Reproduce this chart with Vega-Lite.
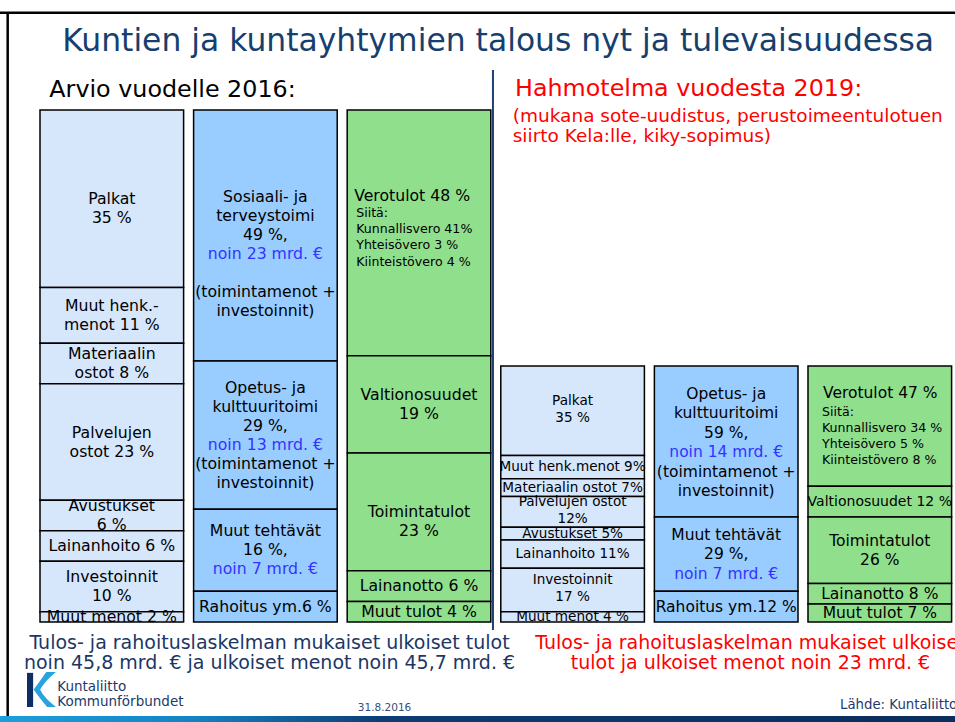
{
"$schema": "https://vega.github.io/schema/vega-lite/v6.json",
"width": 955, "height": 722, "autosize": "none", "padding": 0, "background": "white",
"config": {"view": {"stroke": null}, "text": {"font": "DejaVu Sans"}},
"resolve": {"scale": {"y": "independent"}},
"layer": [
{
 "data": {"values": [
  {"col":"2016 menolajit","kind":"menolaji","order":1,"pct":35,"t":["\u2800","Palkat","35 %"]},
  {"col":"2016 menolajit","kind":"menolaji","order":2,"pct":11,"t":["Muut henk.-","menot 11 %"]},
  {"col":"2016 menolajit","kind":"menolaji","order":3,"pct":8,"t":["Materiaalin","ostot 8 %"]},
  {"col":"2016 menolajit","kind":"menolaji","order":4,"pct":23,"t":["Palvelujen","ostot 23 %"]},
  {"col":"2016 menolajit","kind":"menolaji","order":5,"pct":6,"t":["Avustukset","6 %"]},
  {"col":"2016 menolajit","kind":"menolaji","order":6,"pct":6,"t":["Lainanhoito 6 %"]},
  {"col":"2016 menolajit","kind":"menolaji","order":7,"pct":10,"t":["Investoinnit","10 %"]},
  {"col":"2016 menolajit","kind":"menolaji","order":8,"pct":2,"t":["Muut menot 2 %"]},
  {"col":"2016 tehtävät","kind":"tehtävä","order":1,"pct":49,"t":["\u2800","\u2800","Sosiaali- ja","terveystoimi","49 %,","\u2800","\u2800","(toimintamenot +","investoinnit)"],"b":["\u2800","\u2800","\u2800","\u2800","\u2800","noin 23 mrd. €","\u2800","\u2800","\u2800"]},
  {"col":"2016 tehtävät","kind":"tehtävä","order":2,"pct":29,"t":["Opetus- ja","kulttuuritoimi","29 %,","\u2800","(toimintamenot +","investoinnit)"],"b":["\u2800","\u2800","\u2800","noin 13 mrd. €","\u2800","\u2800"]},
  {"col":"2016 tehtävät","kind":"tehtävä","order":3,"pct":16,"t":["Muut tehtävät","16 %,","\u2800"],"b":["\u2800","\u2800","noin 7 mrd. €"]},
  {"col":"2016 tehtävät","kind":"tehtävä","order":4,"pct":6,"t":["Rahoitus ym.6 %"]},
  {"col":"2016 tulot","kind":"tulo","order":1,"pct":48,"h":"Verotulot 48 %","s":["Siitä:","Kunnallisvero 41%","Yhteisövero 3 %","Kiinteistövero 4 %"]},
  {"col":"2016 tulot","kind":"tulo","order":2,"pct":19,"t":["Valtionosuudet","19 %"]},
  {"col":"2016 tulot","kind":"tulo","order":3,"pct":23,"t":["\u2800","Toimintatulot","23 %"]},
  {"col":"2016 tulot","kind":"tulo","order":4,"pct":6,"t":["Lainanotto 6 %"]},
  {"col":"2016 tulot","kind":"tulo","order":5,"pct":4,"t":["Muut tulot 4 %"]}
 ]},
 "transform": [
  {"stack": "pct", "groupby": ["col"], "sort": [{"field": "order", "order": "descending"}], "offset": "normalize", "as": ["y0", "y1"]},
  {"calculate": "(datum.y0 + datum.y1) / 2", "as": "mid"},
  {"calculate": "datum.mid + (isValid(datum.t) ? length(datum.t) - 1 : 0) * 0.0185546875", "as": "ty"}
 ],
 "layer": [
  {"mark": {"type": "bar", "stroke": "#000000", "strokeWidth": 1.5},
   "encoding": {
    "x": {"field": "col", "type": "nominal", "scale": {"domain": ["2016 menolajit","2016 tehtävät","2016 tulot","2019 menolajit","2019 tehtävät","2019 tulot"], "range": [40, 951.6], "paddingInner": 0.065, "paddingOuter": 0},
          "axis": {"labels": false, "title": null, "ticks": true, "tickSize": 6, "tickColor": "#A9BCD1", "domainColor": "#A9BCD1", "domainWidth": 1.2, "offset": -98, "tickBand": "extent", "grid": false}},
    "y": {"field": "y0", "type": "quantitative", "scale": {"domain": [-0.1953125, 1.21484375], "nice": false, "zero": false}, "axis": null},
    "y2": {"field": "y1"},
    "color": {"field": "kind", "type": "nominal", "scale": {"domain": ["menolaji","tehtävä","tulo"], "range": ["#D6E6FB","#99CCFF","#90DF8C"]}, "legend": null}
   }},
  {"transform": [{"filter": "isValid(datum.t)"}],
   "mark": {"type": "text", "fontSize": 15.7, "lineHeight": 19, "baseline": "middle", "align": "center", "color": "#000000"},
   "encoding": {
    "x": {"field": "col", "type": "nominal", "axis": null},
    "y": {"field": "ty", "type": "quantitative", "scale": {"domain": [-0.1953125, 1.21484375], "nice": false, "zero": false}, "axis": null},
    "text": {"field": "t", "type": "nominal"}}},
  {"transform": [{"filter": "isValid(datum.b)"}],
   "mark": {"type": "text", "fontSize": 15.7, "lineHeight": 19, "baseline": "middle", "align": "center", "color": "#3333FF"},
   "encoding": {
    "x": {"field": "col", "type": "nominal", "axis": null},
    "y": {"field": "ty", "type": "quantitative", "scale": {"domain": [-0.1953125, 1.21484375], "nice": false, "zero": false}, "axis": null},
    "text": {"field": "b", "type": "nominal"}}},
  {"transform": [{"filter": "isValid(datum.h)"}],
   "mark": {"type": "text", "fontSize": 15.7, "baseline": "middle", "align": "left", "dx": 7, "dy": -37, "color": "#000000"},
   "encoding": {
    "x": {"field": "col", "type": "nominal", "bandPosition": 0, "axis": null},
    "y": {"field": "mid", "type": "quantitative", "scale": {"domain": [-0.1953125, 1.21484375], "nice": false, "zero": false}, "axis": null},
    "text": {"field": "h", "type": "nominal"}}},
  {"transform": [{"filter": "isValid(datum.s)"}],
   "mark": {"type": "text", "fontSize": 12.6, "lineHeight": 16.3, "baseline": "middle", "align": "left", "dx": 9, "dy": -20, "color": "#000000"},
   "encoding": {
    "x": {"field": "col", "type": "nominal", "bandPosition": 0, "axis": null},
    "y": {"field": "mid", "type": "quantitative", "scale": {"domain": [-0.1953125, 1.21484375], "nice": false, "zero": false}, "axis": null},
    "text": {"field": "s", "type": "nominal"}}}
 ]
},
{
 "data": {"values": [
  {"col":"2019 menolajit","kind":"menolaji","order":1,"pct":35,"t":["Palkat","35 %"]},
  {"col":"2019 menolajit","kind":"menolaji","order":2,"pct":9,"t":["Muut henk.menot 9%"]},
  {"col":"2019 menolajit","kind":"menolaji","order":3,"pct":7,"t":["Materiaalin ostot 7%"]},
  {"col":"2019 menolajit","kind":"menolaji","order":4,"pct":12,"t":["Palvelujen ostot","12%"]},
  {"col":"2019 menolajit","kind":"menolaji","order":5,"pct":5,"t":["Avustukset 5%"]},
  {"col":"2019 menolajit","kind":"menolaji","order":6,"pct":11,"t":["Lainanhoito 11%"]},
  {"col":"2019 menolajit","kind":"menolaji","order":7,"pct":17,"t":["Investoinnit","17 %"]},
  {"col":"2019 menolajit","kind":"menolaji","order":8,"pct":4,"t":["Muut menot 4 %"]},
  {"col":"2019 tehtävät","kind":"tehtävä","order":1,"pct":59,"t":["Opetus- ja","kulttuuritoimi","59 %,","\u2800","(toimintamenot +","investoinnit)"],"b":["\u2800","\u2800","\u2800","noin 14 mrd. €","\u2800","\u2800"]},
  {"col":"2019 tehtävät","kind":"tehtävä","order":2,"pct":29,"t":["Muut tehtävät","29 %,","\u2800"],"b":["\u2800","\u2800","noin 7 mrd. €"]},
  {"col":"2019 tehtävät","kind":"tehtävä","order":3,"pct":12,"t":["Rahoitus ym.12 %"]},
  {"col":"2019 tulot","kind":"tulo","order":1,"pct":47,"h":"Verotulot 47 %","s":["Siitä:","Kunnallisvero 34 %","Yhteisövero 5 %","Kiinteistövero 8 %"]},
  {"col":"2019 tulot","kind":"tulo","order":2,"pct":12,"t":["Valtionosuudet 12 %"]},
  {"col":"2019 tulot","kind":"tulo","order":3,"pct":26,"t":["Toimintatulot","26 %"]},
  {"col":"2019 tulot","kind":"tulo","order":4,"pct":8,"t":["Lainanotto 8 %"]},
  {"col":"2019 tulot","kind":"tulo","order":5,"pct":7,"t":["Muut tulot 7 %"]}
 ]},
 "transform": [
  {"stack": "pct", "groupby": ["col"], "sort": [{"field": "order", "order": "descending"}], "offset": "normalize", "as": ["y0", "y1"]},
  {"calculate": "(datum.y0 + datum.y1) / 2", "as": "mid"},
  {"calculate": "datum.mid + (isValid(datum.t) ? length(datum.t) - 1 : 0) * 0.0375", "as": "ty"}
 ],
 "layer": [
  {"mark": {"type": "bar", "stroke": "#000000", "strokeWidth": 1.5},
   "encoding": {
    "x": {"field": "col", "type": "nominal", "axis": null},
    "y": {"field": "y0", "type": "quantitative", "scale": {"domain": [-0.390625, 2.4296875], "nice": false, "zero": false}, "axis": null},
    "y2": {"field": "y1"},
    "color": {"field": "kind", "type": "nominal", "legend": null}
   }},
  {"transform": [{"filter": "isValid(datum.t) && datum.col === '2019 menolajit'"}],
   "mark": {"type": "text", "fontSize": 13.6, "lineHeight": 17, "baseline": "middle", "align": "center", "color": "#000000"},
   "encoding": {
    "x": {"field": "col", "type": "nominal", "axis": null},
    "y": {"field": "ty", "type": "quantitative", "scale": {"domain": [-0.390625, 2.4296875], "nice": false, "zero": false}, "axis": null},
    "text": {"field": "t", "type": "nominal"}}},
  {"transform": [{"filter": "isValid(datum.t) && datum.col !== '2019 menolajit' && !(datum.col === '2019 tulot' && datum.order === 2)"}],
   "mark": {"type": "text", "fontSize": 15.5, "lineHeight": 19.5, "baseline": "middle", "align": "center", "color": "#000000"},
   "encoding": {
    "x": {"field": "col", "type": "nominal", "axis": null},
    "y": {"field": "ty", "type": "quantitative", "scale": {"domain": [-0.390625, 2.4296875], "nice": false, "zero": false}, "axis": null},
    "text": {"field": "t", "type": "nominal"}}},
  {"transform": [{"filter": "datum.col === '2019 tulot' && datum.order === 2"}],
   "mark": {"type": "text", "fontSize": 14, "baseline": "middle", "align": "center", "color": "#000000"},
   "encoding": {
    "x": {"field": "col", "type": "nominal", "axis": null},
    "y": {"field": "ty", "type": "quantitative", "scale": {"domain": [-0.390625, 2.4296875], "nice": false, "zero": false}, "axis": null},
    "text": {"field": "t", "type": "nominal"}}},
  {"transform": [{"filter": "isValid(datum.b)"}],
   "mark": {"type": "text", "fontSize": 15.5, "lineHeight": 19.5, "baseline": "middle", "align": "center", "color": "#3333FF"},
   "encoding": {
    "x": {"field": "col", "type": "nominal", "axis": null},
    "y": {"field": "ty", "type": "quantitative", "scale": {"domain": [-0.390625, 2.4296875], "nice": false, "zero": false}, "axis": null},
    "text": {"field": "b", "type": "nominal"}}},
  {"transform": [{"filter": "isValid(datum.h)"}],
   "mark": {"type": "text", "fontSize": 15.5, "baseline": "middle", "align": "left", "dx": 15, "dy": -33, "color": "#000000"},
   "encoding": {
    "x": {"field": "col", "type": "nominal", "bandPosition": 0, "axis": null},
    "y": {"field": "mid", "type": "quantitative", "scale": {"domain": [-0.390625, 2.4296875], "nice": false, "zero": false}, "axis": null},
    "text": {"field": "h", "type": "nominal"}}},
  {"transform": [{"filter": "isValid(datum.s)"}],
   "mark": {"type": "text", "fontSize": 12.6, "lineHeight": 16, "baseline": "middle", "align": "left", "dx": 14, "dy": -14, "color": "#000000"},
   "encoding": {
    "x": {"field": "col", "type": "nominal", "bandPosition": 0, "axis": null},
    "y": {"field": "mid", "type": "quantitative", "scale": {"domain": [-0.390625, 2.4296875], "nice": false, "zero": false}, "axis": null},
    "text": {"field": "s", "type": "nominal"}}}
 ]
},
{
 "data": {"values": [{}]},
 "layer": [
  {"mark": {"type": "rect", "color": {"gradient": "linear", "x1": 0, "x2": 1, "y1": 0, "y2": 0, "stops": [{"offset": 0, "color": "#1D9FDB"}, {"offset": 0.2, "color": "#1583C3"}, {"offset": 0.4, "color": "#0C3D74"}, {"offset": 1, "color": "#0A2D5C"}]}},
   "encoding": {
    "y": {"datum": -0.18359375, "type": "quantitative", "scale": {"domain": [-0.1953125, 1.21484375], "nice": false, "zero": false}, "axis": null},
    "y2": {"datum": -0.1953125}}},
  {"mark": {"type": "rule", "color": "#000000", "strokeWidth": 2.5},
   "encoding": {
    "y": {"datum": 1.1898, "type": "quantitative", "scale": {"domain": [-0.1953125, 1.21484375], "nice": false, "zero": false}, "axis": null}}},
  {"mark": {"type": "rule", "color": "#000000", "strokeWidth": 2.5},
   "encoding": {
    "x": {"datum": "2016 menolajit", "type": "nominal", "bandPosition": -0.225, "axis": null},
    "y": {"datum": 1.1898, "type": "quantitative", "scale": {"domain": [-0.1953125, 1.21484375], "nice": false, "zero": false}, "axis": null},
    "y2": {"datum": -0.18359375}}},
  {"mark": {"type": "rule", "color": "#1F3F73", "strokeWidth": 2},
   "encoding": {
    "x": {"datum": "2016 tulot", "type": "nominal", "bandPosition": 1.015, "axis": null},
    "y": {"datum": 1.078, "type": "quantitative", "scale": {"domain": [-0.1953125, 1.21484375], "nice": false, "zero": false}, "axis": null},
    "y2": {"datum": -0.0156}}},
  {"mark": {"type": "text", "text": "Kuntien ja kuntayhtymien talous nyt ja tulevaisuudessa", "fontSize": 31.4, "align": "left", "baseline": "alphabetic", "color": "#163F6E"},
   "encoding": {
    "x": {"datum": "2016 menolajit", "type": "nominal", "bandPosition": 0.155, "axis": null},
    "y": {"datum": 1.1162, "type": "quantitative", "scale": {"domain": [-0.1953125, 1.21484375], "nice": false, "zero": false}, "axis": null}}},
  {"mark": {"type": "text", "text": "Arvio vuodelle 2016:", "fontSize": 23.8, "align": "left", "baseline": "alphabetic", "color": "#000000"},
   "encoding": {
    "x": {"datum": "2016 menolajit", "type": "nominal", "bandPosition": 0.065, "axis": null},
    "y": {"datum": 1.026, "type": "quantitative", "scale": {"domain": [-0.1953125, 1.21484375], "nice": false, "zero": false}, "axis": null}}},
  {"mark": {"type": "text", "text": "Hahmotelma vuodesta 2019:", "fontSize": 23.8, "align": "left", "baseline": "alphabetic", "color": "#FF0000"},
   "encoding": {
    "x": {"datum": "2019 menolajit", "type": "nominal", "bandPosition": 0.099, "axis": null},
    "y": {"datum": 1.0273, "type": "quantitative", "scale": {"domain": [-0.1953125, 1.21484375], "nice": false, "zero": false}, "axis": null}}},
  {"mark": {"type": "text", "text": ["(mukana sote-uudistus, perustoimeentulotuen", "siirto Kela:lle, kiky-sopimus)"], "fontSize": 18.5, "lineHeight": 19.5, "align": "left", "baseline": "alphabetic", "color": "#FF0000"},
   "encoding": {
    "x": {"datum": "2019 menolajit", "type": "nominal", "bandPosition": 0.083, "axis": null},
    "y": {"datum": 0.9765, "type": "quantitative", "scale": {"domain": [-0.1953125, 1.21484375], "nice": false, "zero": false}, "axis": null}}},
  {"mark": {"type": "text", "text": ["Tulos- ja rahoituslaskelman mukaiset ulkoiset tulot", "noin 45,8 mrd. € ja ulkoiset menot noin 45,7 mrd. €"], "fontSize": 19, "lineHeight": 19.5, "align": "center", "baseline": "alphabetic", "color": "#1B3766"},
   "encoding": {
    "x": {"datum": "2016 tehtävät", "type": "nominal", "bandPosition": 0.5286, "axis": null},
    "y": {"datum": -0.0537, "type": "quantitative", "scale": {"domain": [-0.1953125, 1.21484375], "nice": false, "zero": false}, "axis": null}}},
  {"mark": {"type": "text", "text": ["Tulos- ja rahoituslaskelman mukaiset ulkoiset", "tulot ja ulkoiset menot noin 23 mrd. €"], "fontSize": 19, "lineHeight": 19.5, "align": "center", "baseline": "alphabetic", "color": "#FF0000"},
   "encoding": {
    "x": {"datum": "2019 tehtävät", "type": "nominal", "bandPosition": 0.669, "axis": null},
    "y": {"datum": -0.0537, "type": "quantitative", "scale": {"domain": [-0.1953125, 1.21484375], "nice": false, "zero": false}, "axis": null}}},
  {"mark": {"type": "text", "text": "31.8.2016", "fontSize": 10.5, "align": "center", "baseline": "alphabetic", "color": "#3A4D7C"},
   "encoding": {
    "x": {"datum": "2016 tulot", "type": "nominal", "bandPosition": 0.26, "axis": null},
    "y": {"datum": -0.1738, "type": "quantitative", "scale": {"domain": [-0.1953125, 1.21484375], "nice": false, "zero": false}, "axis": null}}},
  {"mark": {"type": "text", "text": "Lähde: Kuntaliitto", "fontSize": 13.3, "align": "left", "baseline": "alphabetic", "color": "#1F3A6E"},
   "encoding": {
    "x": {"datum": "2019 tulot", "type": "nominal", "bandPosition": 0.223, "axis": null},
    "y": {"datum": -0.1699, "type": "quantitative", "scale": {"domain": [-0.1953125, 1.21484375], "nice": false, "zero": false}, "axis": null}}},
  {"mark": {"type": "text", "text": ["Kuntaliitto", "Kommunförbundet"], "fontSize": 13.5, "lineHeight": 15, "align": "left", "baseline": "alphabetic", "color": "#1B3A6B"},
   "encoding": {
    "x": {"datum": "2016 menolajit", "type": "nominal", "bandPosition": 0.12, "axis": null},
    "y": {"datum": -0.1342, "type": "quantitative", "scale": {"domain": [-0.1953125, 1.21484375], "nice": false, "zero": false}, "axis": null}}},
  {"mark": {"type": "point", "shape": "M 0.85 -1 L 0.3 -1 Q -0.15 -0.35 -0.42 0 Q -0.15 0.4 0.35 1 L 0.85 1 Q 0.15 0.45 -0.05 0 Q 0.2 -0.45 0.85 -1 Z", "filled": true, "color": "#29A3DD", "opacity": 1, "size": 1225, "strokeWidth": 0},
   "encoding": {
    "x": {"datum": "2016 menolajit", "type": "nominal", "bandPosition": 0.007, "axis": null},
    "y": {"datum": -0.1318, "type": "quantitative", "scale": {"domain": [-0.1953125, 1.21484375], "nice": false, "zero": false}, "axis": null}}},
  {"mark": {"type": "point", "shape": "M -0.8 -0.95 L -0.45 -0.95 L -0.45 1 L -0.8 1 Z", "filled": true, "color": "#0D2F66", "opacity": 1, "size": 1225, "strokeWidth": 0},
   "encoding": {
    "x": {"datum": "2016 menolajit", "type": "nominal", "bandPosition": 0.007, "axis": null},
    "y": {"datum": -0.1318, "type": "quantitative", "scale": {"domain": [-0.1953125, 1.21484375], "nice": false, "zero": false}, "axis": null}}}
 ]
}
]
}
